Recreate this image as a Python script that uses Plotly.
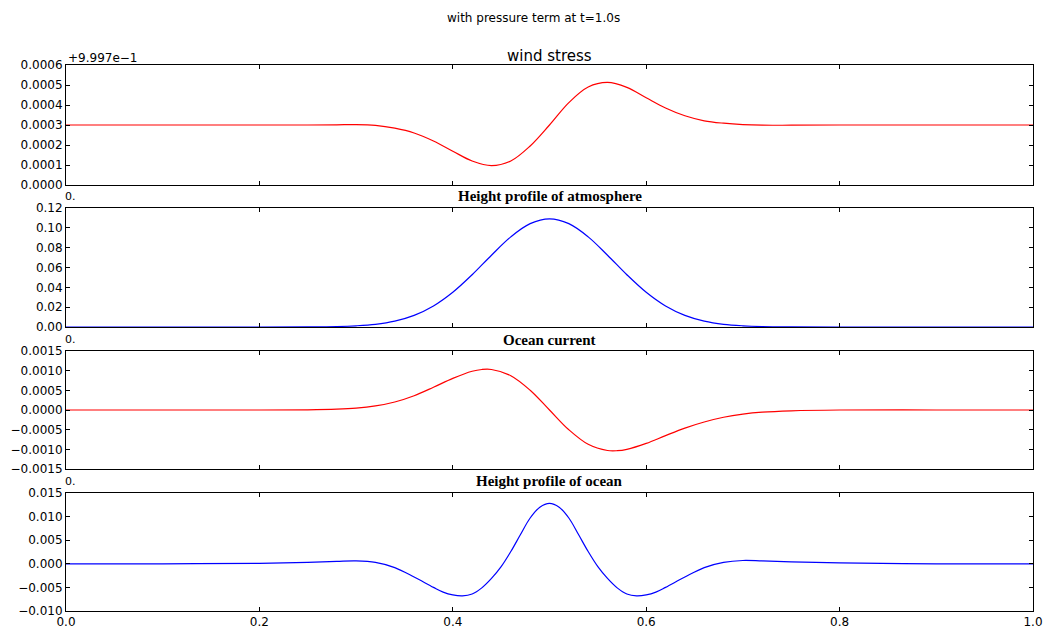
import plotly.graph_objects as go

# ---------------- data ----------------
x_wind = [0, 0.1, 0.2, 0.25, 0.28, 0.30, 0.32, 0.34, 0.36, 0.38, 0.40, 0.42, 0.44, 0.46, 0.48,
          0.50, 0.52, 0.54, 0.56, 0.58, 0.60, 0.62, 0.64, 0.66, 0.68, 0.70, 0.72, 0.75, 0.8, 0.9, 1.0]
wind_stress = [0.000300, 0.000300, 0.000300, 0.000300, 0.000301, 0.000302, 0.000298, 0.000284,
               0.000260, 0.000220, 0.000169, 0.000120, 0.000097, 0.000120, 0.000195,
               0.000300, 0.000412, 0.000490, 0.000513, 0.000488, 0.000436, 0.000385, 0.000346,
               0.000321, 0.000309, 0.000302, 0.000299, 0.000299, 0.000300, 0.000300, 0.000300]
wind_offset_label = "+9.997e\u22121"

x_atm = [0, 0.1, 0.2, 0.25, 0.28, 0.30, 0.32, 0.34, 0.36, 0.38, 0.40, 0.42, 0.44, 0.46, 0.48,
         0.50, 0.52, 0.54, 0.56, 0.58, 0.60, 0.62, 0.64, 0.66, 0.68, 0.70, 0.72, 0.75, 0.8, 0.9, 1.0]
atm_height = [0, 0, 0, 0.0001, 0.00045, 0.0012, 0.0027, 0.0059, 0.0117, 0.0212, 0.0350, 0.0527,
              0.0724, 0.0909, 0.1042, 0.1090, 0.1042, 0.0909, 0.0724, 0.0527, 0.0350, 0.0212,
              0.0117, 0.0059, 0.0027, 0.0012, 0.00045, 0.0001, 0, 0, 0]

x_cur = [0, 0.1, 0.2, 0.25, 0.28, 0.30, 0.32, 0.34, 0.36, 0.38, 0.40, 0.42, 0.43, 0.44, 0.46, 0.48,
         0.50, 0.52, 0.54, 0.56, 0.57, 0.58, 0.60, 0.62, 0.64, 0.66, 0.68, 0.70, 0.72, 0.75, 0.8, 0.9, 1.0]
ocean_current = [0, 0, 0, 0.000005, 0.00002, 0.000046, 0.000103, 0.000204, 0.000363, 0.000578,
                 0.000805, 0.000985, 0.001030, 0.001030, 0.000873, 0.000503, 0.0, -0.000503,
                 -0.000873, -0.001030, -0.001035, -0.001000, -0.000850, -0.000650, -0.000460,
                 -0.000305, -0.000185, -0.000105, -0.000055, -0.000020, 0, 0, 0]

x_oce = [0, 0.1, 0.2, 0.25, 0.28, 0.30, 0.32, 0.34, 0.36, 0.38, 0.39, 0.40, 0.41, 0.42, 0.43, 0.44,
         0.45, 0.46, 0.47, 0.48, 0.49, 0.50, 0.51, 0.52, 0.53, 0.54, 0.55, 0.56, 0.57, 0.58,
         0.59, 0.60, 0.61, 0.62, 0.64, 0.66, 0.68, 0.70, 0.72, 0.75, 0.8, 0.9, 1.0]
ocean_height = [0, 0, 0.0001, 0.0003, 0.0005, 0.0006, 0.0003, -0.0008, -0.0028, -0.0050, -0.0060,
                -0.0066, -0.0068, -0.0064, -0.0051, -0.0031, -0.0006, 0.0026, 0.0062, 0.0097,
                0.0120, 0.0128, 0.0120, 0.0097, 0.0062, 0.0026, -0.0006, -0.0031, -0.0051,
                -0.0064, -0.0068, -0.0066, -0.0060, -0.0050, -0.0028, -0.0008, 0.0003, 0.0007,
                0.0006, 0.0004, 0.0002, 0, 0]

x_ticks = [0.0, 0.2, 0.4, 0.6, 0.8, 1.0]
x_ticktext = ["0.0", "0.2", "0.4", "0.6", "0.8", "1.0"]

suptitle = "with pressure term at t=1.0s"
titles = ["wind stress", "Height profile of atmosphere", "Ocean current", "Height profile of ocean"]

# ---------------- figure ----------------
W, H = 1045, 630
ML, MR, MT, MB = 66, 12, 65, 19
PH = H - MT - MB


def py(pix):  # pixel y (from top) -> paper y
    return (H - MB - pix) / PH


def px(pix):
    return (pix - ML) / (W - ML - MR)


domains = [[py(185), 1.0], [py(327), py(208)], [py(469), py(351)], [0.0, py(493)]]

fig = go.Figure()
series = [(x_wind, wind_stress, "#ff0000"), (x_atm, atm_height, "#0000ff"),
          (x_cur, ocean_current, "#ff0000"), (x_oce, ocean_height, "#0000ff")]
for i, (xs, ys, col) in enumerate(series):
    sfx = "" if i == 0 else str(i + 1)
    fig.add_trace(go.Scatter(x=xs, y=ys, mode="lines", xaxis="x" + sfx, yaxis="y" + sfx,
                             line=dict(color=col, width=1.2, shape="spline", smoothing=1.0),
                             showlegend=False, hoverinfo="skip"))

axis_common = dict(showline=True, linecolor="black", linewidth=1, mirror="ticks",
                   ticks="inside", ticklen=4, tickcolor="black", tickwidth=1,
                   showgrid=False, zeroline=False, automargin=False,
                   tickfont=dict(family="DejaVu Sans", size=12, color="black"))

y_specs = [
    dict(range=[0, 0.0006], tickvals=[0, 0.0001, 0.0002, 0.0003, 0.0004, 0.0005, 0.0006], tickformat=".4f"),
    dict(range=[0, 0.12], tickvals=[0, 0.02, 0.04, 0.06, 0.08, 0.10, 0.12], tickformat=".2f"),
    dict(range=[-0.0015, 0.0015], tickvals=[-0.0015, -0.001, -0.0005, 0, 0.0005, 0.001, 0.0015], tickformat=".4f"),
    dict(range=[-0.010, 0.015], tickvals=[-0.010, -0.005, 0, 0.005, 0.010, 0.015], tickformat=".3f"),
]

layout = dict(width=W, height=H, margin=dict(l=ML, r=MR, t=MT, b=MB, autoexpand=False),
              paper_bgcolor="white", plot_bgcolor="white", showlegend=False)
for i in range(4):
    sfx = "" if i == 0 else str(i + 1)
    layout["xaxis" + sfx] = dict(axis_common, domain=[0, 1], range=[0, 1], tickvals=x_ticks,
                                 ticktext=x_ticktext, showticklabels=(i == 3),
                                 anchor="y" + sfx)
    layout["yaxis" + sfx] = dict(axis_common, domain=domains[i], anchor="x" + sfx, **y_specs[i])
fig.update_layout(**layout)

annos = []
annos.append(dict(text=suptitle, xref="paper", yref="paper", x=px(533), y=py(18),
                  showarrow=False, font=dict(family="DejaVu Sans", size=12, color="black"),
                  xanchor="center", yanchor="middle"))
annos.append(dict(text=titles[0], xref="paper", yref="paper", x=0.5, y=py(56),
                  showarrow=False, font=dict(family="DejaVu Sans", size=15, color="black"),
                  xanchor="center", yanchor="middle"))
for t, yy in zip(titles[1:], [196, 340, 481]):
    annos.append(dict(text="<b>" + t + "</b>", xref="paper", yref="paper", x=0.5, y=py(yy),
                      showarrow=False, font=dict(family="Liberation Serif", size=15, color="black"),
                      xanchor="center", yanchor="middle"))
annos.append(dict(text=wind_offset_label, xref="paper", yref="paper", x=0, y=py(58),
                  showarrow=False, font=dict(family="DejaVu Sans", size=12, color="black"),
                  xanchor="left", yanchor="middle"))
for yy in [196, 339, 481]:
    annos.append(dict(text="0.", xref="paper", yref="paper", x=px(63), y=py(yy),
                      showarrow=False, font=dict(family="DejaVu Sans", size=11, color="black"),
                      xanchor="left", yanchor="middle"))
fig.update_layout(annotations=annos)

fig.write_html("out.html")
